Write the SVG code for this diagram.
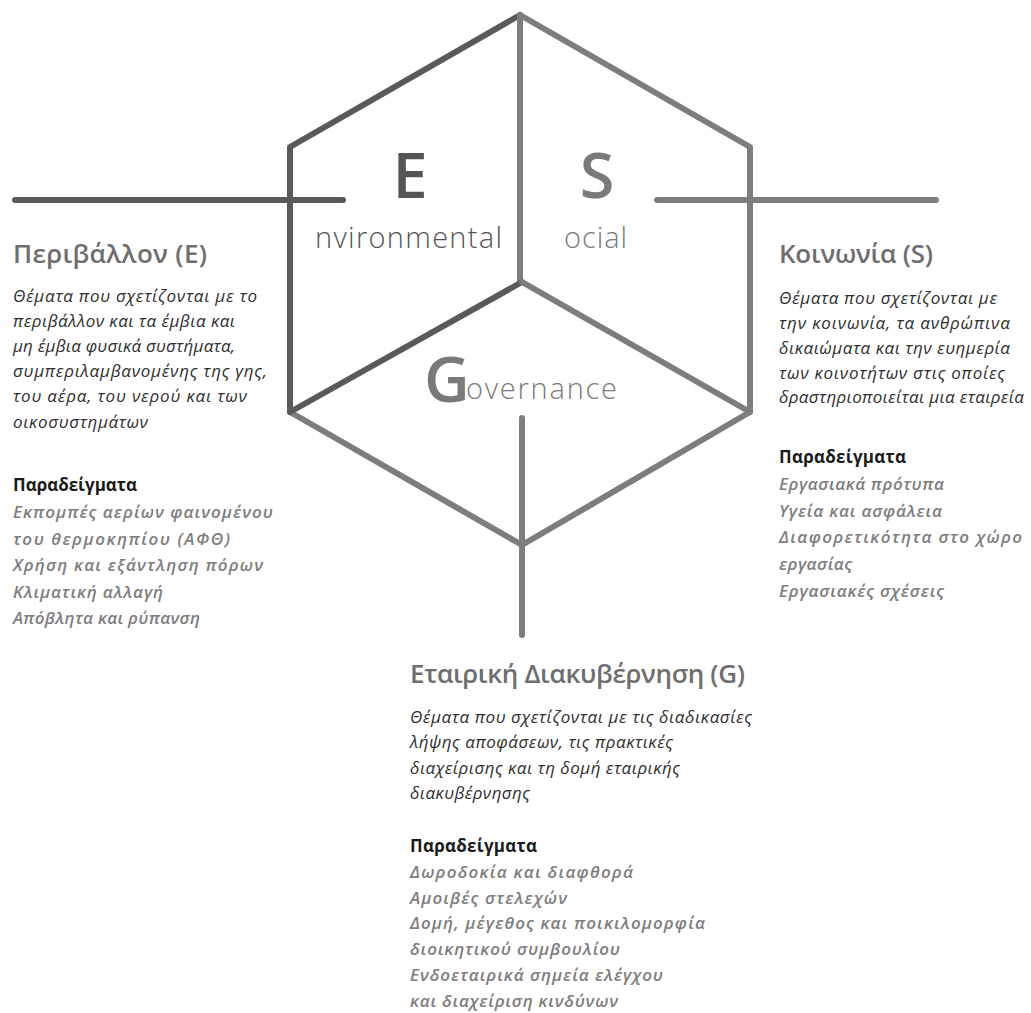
<svg xmlns="http://www.w3.org/2000/svg" width="1031" height="1013" viewBox="0 0 1031 1013">
<style>
.dk{stroke:#5a5a5a;stroke-width:6;fill:none;stroke-linecap:round;stroke-linejoin:round}
.lt{stroke:#7d7d7d;stroke-width:6;fill:none;stroke-linecap:round;stroke-linejoin:round}
text{font-family:"Open Sans","Noto Sans","DejaVu Sans",sans-serif}
.big{font-size:63px;font-weight:600}
.sub{font-size:29px;font-weight:300}
.ttl{font-size:26px;font-weight:600;fill:#6e6e6e}
.body{font-size:17px;font-style:italic;fill:#2e2e2e}
.hd{font-size:17px;font-weight:700;fill:#1a1a1a}
.ex{font-size:17px;font-style:italic;font-weight:600;fill:#7e7e7e}
</style>
<rect width="1031" height="1013" fill="#ffffff"/>
<g id="connectors">
<line class="dk" x1="15" y1="200" x2="343" y2="200"/>
<line class="lt" x1="657" y1="200" x2="936" y2="200"/>
<line class="lt" x1="522" y1="418" x2="522" y2="635"/>
</g>
<g id="hexagon">
<polyline class="dk" points="290,412 290,147 520,15"/>
<polyline class="lt" points="520,15 750,147 750,412 522,545 290,412"/>
<line class="lt" x1="520" y1="15" x2="520" y2="282"/>
<line class="dk" x1="522" y1="282" x2="290" y2="412"/>
<line class="lt" x1="522" y1="282" x2="750" y2="412"/>
</g>
<g id="node-E">
<text class="big" x="410" y="198" text-anchor="middle" fill="#555555">E</text>
<text class="sub" x="315" y="248" textLength="187" fill="#555555">nvironmental</text>
</g>
<g id="node-S">
<text class="big" x="597" y="198" text-anchor="middle" fill="#7a7a7a">S</text>
<text class="sub" x="564" y="248" textLength="63" fill="#7a7a7a">ocial</text>
</g>
<g id="node-G">
<text class="big" x="424" y="402" fill="#7a7a7a">G</text>
<text class="sub" x="466" y="399" textLength="151" fill="#7a7a7a">overnance</text>
</g>
<g id="panel-E">
<text class="ttl" x="13" y="263" textLength="194">Περιβάλλον (Ε)</text>
<text class="body" x="13" y="302" textLength="244">Θέματα που σχετίζονται με το</text>
<text class="body" x="13" y="327" textLength="222">περιβάλλον και τα έμβια και</text>
<text class="body" x="13" y="352" textLength="222">μη έμβια φυσικά συστήματα,</text>
<text class="body" x="13" y="377" textLength="254">συμπεριλαμβανομένης της γης,</text>
<text class="body" x="13" y="402" textLength="234">του αέρα, του νερού και των</text>
<text class="body" x="13" y="428" textLength="135">οικοσυστημάτων</text>
<text class="hd" x="13" y="491" textLength="124">Παραδείγματα</text>
<text class="ex" x="13" y="518" textLength="260">Εκπομπές αερίων φαινομένου</text>
<text class="ex" x="13" y="545" textLength="217">του θερμοκηπίου (ΑΦΘ)</text>
<text class="ex" x="13" y="571" textLength="250">Χρήση και εξάντληση πόρων</text>
<text class="ex" x="13" y="598" textLength="150">Κλιματική αλλαγή</text>
<text class="ex" x="13" y="624" textLength="187">Απόβλητα και ρύπανση</text>
</g>
<g id="panel-S">
<text class="ttl" x="779" y="263" textLength="154">Κοινωνία (S)</text>
<text class="body" x="779" y="304" textLength="218">Θέματα που σχετίζονται με</text>
<text class="body" x="779" y="329" textLength="231">την κοινωνία, τα ανθρώπινα</text>
<text class="body" x="779" y="354" textLength="231">δικαιώματα και την ευημερία</text>
<text class="body" x="779" y="379" textLength="226">των κοινοτήτων στις οποίες</text>
<text class="body" x="779" y="403" textLength="245">δραστηριοποιείται μια εταιρεία</text>
<text class="hd" x="779" y="463" textLength="127">Παραδείγματα</text>
<text class="ex" x="779" y="490" textLength="165">Εργασιακά πρότυπα</text>
<text class="ex" x="779" y="517" textLength="163">Υγεία και ασφάλεια</text>
<text class="ex" x="779" y="543" textLength="243">Διαφορετικότητα στο χώρο</text>
<text class="ex" x="779" y="570" textLength="73">εργασίας</text>
<text class="ex" x="779" y="597" textLength="165">Εργασιακές σχέσεις</text>
</g>
<g id="panel-G">
<text class="ttl" x="410" y="683" textLength="335">Εταιρική Διακυβέρνηση (G)</text>
<text class="body" x="410" y="723" textLength="342">Θέματα που σχετίζονται με τις διαδικασίες</text>
<text class="body" x="410" y="748" textLength="263">λήψης αποφάσεων, τις πρακτικές</text>
<text class="body" x="410" y="774" textLength="270">διαχείρισης και τη δομή εταιρικής</text>
<text class="body" x="410" y="799" textLength="120">διακυβέρνησης</text>
<text class="hd" x="410" y="852" textLength="127">Παραδείγματα</text>
<text class="ex" x="410" y="878" textLength="223">Δωροδοκία και διαφθορά</text>
<text class="ex" x="410" y="904" textLength="157">Αμοιβές στελεχών</text>
<text class="ex" x="410" y="929" textLength="295">Δομή, μέγεθος και ποικιλομορφία</text>
<text class="ex" x="410" y="955" textLength="210">διοικητικού συμβουλίου</text>
<text class="ex" x="410" y="981" textLength="253">Ενδοεταιρικά σημεία ελέγχου</text>
<text class="ex" x="410" y="1007" textLength="208">και διαχείριση κινδύνων</text>
</g>
</svg>
